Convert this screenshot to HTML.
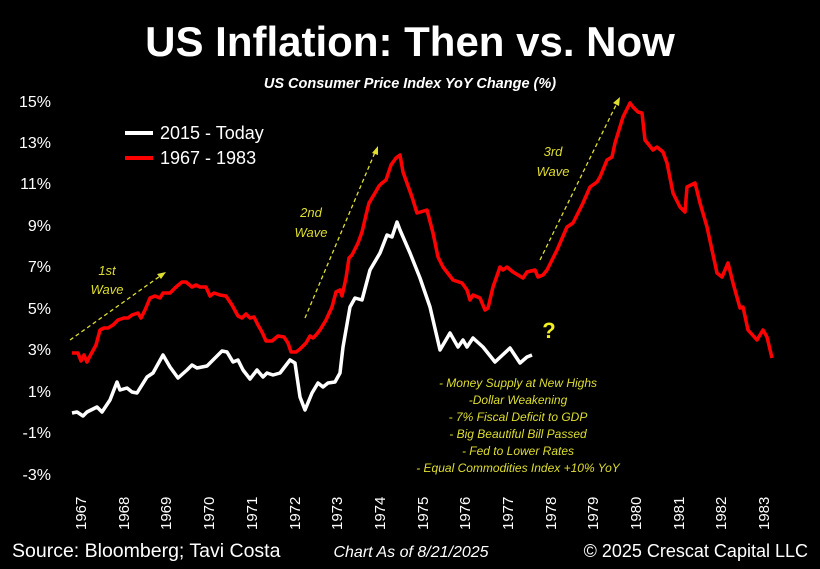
<!DOCTYPE html>
<html><head><meta charset="utf-8"><style>
body{margin:0;background:#000;}
svg{display:block;font-family:"Liberation Sans",Arial,sans-serif;}
</style></head><body>
<svg width="820" height="569" viewBox="0 0 820 569" xmlns="http://www.w3.org/2000/svg">
<rect width="820" height="569" fill="#000"/>
<text x="410" y="56" fill="#fff" font-size="42" font-weight="bold" text-anchor="middle">US Inflation: Then vs. Now</text>
<text x="410" y="88" fill="#fff" font-size="14.5" font-weight="bold" font-style="italic" text-anchor="middle">US Consumer Price Index YoY Change (%)</text>
<g fill="#fff" font-size="16" text-anchor="end">
<text x="51" y="107">15%</text><text x="51" y="148">13%</text><text x="51" y="189">11%</text>
<text x="51" y="231">9%</text><text x="51" y="272">7%</text><text x="51" y="314">5%</text>
<text x="51" y="355">3%</text><text x="51" y="397">1%</text><text x="51" y="438">-1%</text><text x="51" y="480">-3%</text>
</g>
<g fill="#fff" font-size="15">
<text transform="translate(86,530) rotate(-90)">1967</text>
<text transform="translate(129,530) rotate(-90)">1968</text>
<text transform="translate(171,530) rotate(-90)">1969</text>
<text transform="translate(214,530) rotate(-90)">1970</text>
<text transform="translate(257,530) rotate(-90)">1971</text>
<text transform="translate(300,530) rotate(-90)">1972</text>
<text transform="translate(342,530) rotate(-90)">1973</text>
<text transform="translate(385,530) rotate(-90)">1974</text>
<text transform="translate(428,530) rotate(-90)">1975</text>
<text transform="translate(470,530) rotate(-90)">1976</text>
<text transform="translate(513,530) rotate(-90)">1977</text>
<text transform="translate(556,530) rotate(-90)">1978</text>
<text transform="translate(598,530) rotate(-90)">1979</text>
<text transform="translate(641,530) rotate(-90)">1980</text>
<text transform="translate(684,530) rotate(-90)">1981</text>
<text transform="translate(726,530) rotate(-90)">1982</text>
<text transform="translate(769,530) rotate(-90)">1983</text>
</g>
<line x1="125" y1="133" x2="153" y2="133" stroke="#fff" stroke-width="4"/>
<line x1="125" y1="158" x2="153" y2="158" stroke="#f00" stroke-width="4"/>
<text x="160" y="139" fill="#fff" font-size="18">2015 - Today</text>
<text x="160" y="164" fill="#fff" font-size="18">1967 - 1983</text>
<g stroke="#dede30" stroke-width="1.3" stroke-dasharray="4,3" fill="none">
<line x1="70" y1="340" x2="163" y2="274"/>
<line x1="305" y1="318" x2="376" y2="150"/>
<line x1="540" y1="260" x2="618" y2="101"/>
</g>
<g fill="#dede30">
<polygon points="166,272 157,274 161,279"/>
<polygon points="378,146 372,153 378,155"/>
<polygon points="620,97 613,103 619,106"/>
</g>
<g fill="#dede30" font-size="13" font-style="italic" text-anchor="middle">
<text x="107" y="275">1st</text><text x="107" y="294">Wave</text>
<text x="311" y="217">2nd</text><text x="311" y="237">Wave</text>
<text x="553" y="156">3rd</text><text x="553" y="176">Wave</text>
</g>
<polyline fill="none" stroke="#ff0000" stroke-width="3.5" stroke-linejoin="round" points="72,353 78,353 81,361 84,355 87,362 90,356 96,345 100,330 104,328 108,328 113,325 118,320 124,318 128,318 132,315 138,313 141,318 145,310 150,298 155,296 160,298 163,293 170,293 176,287 182,282 186,282 192,287 196,285 200,287 206,287 210,296 214,293 220,295 226,296 232,305 238,316 242,318 246,314 250,318 254,317 258,325 262,332 266,341 272,341 278,336 284,337 288,343 291,352 296,352 300,349 306,343 310,336 313,338 316,335 320,330 326,320 332,307 336,292 340,290 342,296 346,278 349,258 352,255 358,243 362,232 366,215 369,203 372,198 375,193 379,186 382,183 386,180 391,165 396,158 400,155 403,172 412,197 417,213 427,210 433,233 438,257 443,267 453,280 462,283 467,290 470,300 473,295 480,298 485,310 488,308 493,287 500,267 503,270 507,267 513,272 523,278 527,272 535,270 538,277 543,275 547,270 557,250 567,227 573,223 583,203 590,187 597,182 600,177 607,160 612,157 615,143 623,117 630,103 633,107 638,112 642,113 645,140 653,150 657,147 663,152 667,163 673,193 680,207 685,212 687,187 695,183 700,203 707,227 717,273 722,277 728,263 733,283 740,308 743,307 748,330 757,340 763,330 767,337 772,358"/>
<polyline fill="none" stroke="#fff" stroke-width="3.5" stroke-linejoin="round" points="72,413 77,412 83,416 87,412 97,407 102,412 110,400 117,382 120,390 127,388 132,392 137,393 147,377 153,373 163,355 170,367 178,378 187,370 192,365 197,368 207,366 213,360 222,351 227,352 233,362 238,360 243,370 250,379 257,370 263,377 267,373 273,375 280,373 290,360 295,363 300,397 305,410 312,393 318,383 323,387 328,383 335,382 340,373 343,347 350,307 355,298 362,300 370,270 380,253 387,235 392,237 397,222 400,230 410,253 420,278 430,307 440,350 450,333 458,347 463,340 467,347 473,338 483,347 495,362 510,348 520,363 527,357 532,355"/>
<text x="549" y="338" fill="#f0f020" font-size="22" font-weight="bold" text-anchor="middle">?</text>
<g fill="#dede30" font-size="12" font-style="italic" text-anchor="middle">
<text x="518" y="387">- Money Supply at New Highs</text>
<text x="518" y="404">-Dollar Weakening</text>
<text x="518" y="421">- 7% Fiscal Deficit to GDP</text>
<text x="518" y="438">- Big Beautiful Bill Passed</text>
<text x="518" y="455">- Fed to Lower Rates</text>
<text x="518" y="472">- Equal Commodities Index +10% YoY</text>
</g>
<text x="12" y="557" fill="#fff" font-size="19.5">Source: Bloomberg; Tavi Costa</text>
<text x="411" y="557" fill="#fff" font-size="16" font-style="italic" text-anchor="middle">Chart As of 8/21/2025</text>
<text x="808" y="557" fill="#fff" font-size="18" text-anchor="end">© 2025 Crescat Capital LLC</text>
</svg>
</body></html>
